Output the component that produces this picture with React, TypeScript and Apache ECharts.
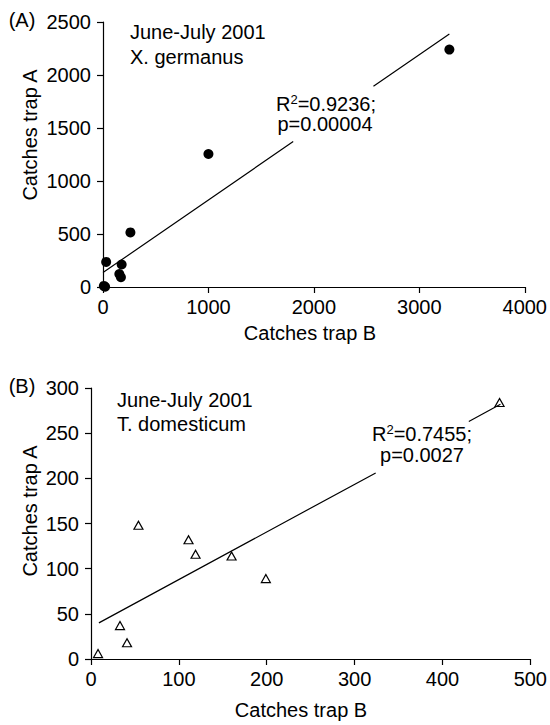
import React, { useEffect, useRef } from 'react';
import * as echarts from 'echarts';

// Panel A: X. germanus (trap B catches, trap A catches)
const germanusB = [3285, 1000, 260, 30, 177, 155, 170, 8, 20];
const germanusA = [2240, 1255, 515, 237, 212, 122, 92, 10, 2];
// regression line A, broken around its label
const fitA_x = [0, 1804, 2565, 3285];
const fitA_y = [136, 1372, 1893, 2386];

// Panel B: T. domesticum
const domesticumB = [465, 54, 111, 119, 160, 199, 33, 41, 8];
const domesticumA = [284, 148, 132, 116, 114, 89, 37, 18, 6];
const fitB_x = [9, 324, 430, 466];
const fitB_y = [40, 206, 263, 282];

const xTicksA = [0, 4000, 1000];
const yTicksA = [0, 2500, 500];
const xTicksB = [0, 500, 100];
const yTicksB = [0, 300, 50];

const FONT = '"Liberation Sans", Arial, Helvetica, sans-serif';
const FS = 20;

function pairs(xs: number[], ys: number[]) {
  return xs.map((x, i) => [x, ys[i]]);
}
function segs(xs: number[], ys: number[]) {
  return [[xs[0], ys[0]], [xs[1], ys[1]], ['-', '-'], [xs[2], ys[2]], [xs[3], ys[3]]];
}

function txt(text: string, x: number, y: number, align = 'left', rotation = 0, extra: any = {}) {
  return {
    type: 'text',
    x,
    y,
    rotation,
    z: 100,
    style: {
      text,
      fontSize: FS,
      fontFamily: FONT,
      fill: '#000',
      align,
      textAlign: align,
      verticalAlign: 'middle',
      textVerticalAlign: 'middle',
      ...extra,
    },
  };
}

const supRich = { s: { fontSize: 13, fontFamily: FONT, fill: '#000', verticalAlign: 'top', lineHeight: 23 }, n: { fontSize: FS, fontFamily: FONT, fill: '#000', lineHeight: 23 } };

export default function App() {
  const ref = useRef<HTMLDivElement>(null);
  useEffect(() => {
    if (!ref.current) return;
    const chart = echarts.init(ref.current, null, { renderer: 'svg' });
    const axisCommon = {
      type: 'value',
      axisLine: { show: true, lineStyle: { color: '#000', width: 1.2 } },
      axisTick: { show: true, length: 6, lineStyle: { color: '#000', width: 1.2 } },
      splitLine: { show: false },
      axisLabel: { color: '#000', fontSize: FS, fontFamily: FONT, formatter: (v: number) => String(v) },
    };
    chart.setOption({
      animation: false,
      backgroundColor: '#fff',
      grid: [
        { left: 103, top: 22, right: 22, height: 265 },
        { left: 91, top: 388, right: 16, bottom: 66 },
      ],
      xAxis: [
        { ...axisCommon, gridIndex: 0, min: xTicksA[0], max: xTicksA[1], interval: xTicksA[2], axisLabel: { ...axisCommon.axisLabel, margin: 10 } },
        { ...axisCommon, gridIndex: 1, min: xTicksB[0], max: xTicksB[1], interval: xTicksB[2], axisLabel: { ...axisCommon.axisLabel, margin: 10 } },
      ],
      yAxis: [
        { ...axisCommon, gridIndex: 0, min: yTicksA[0], max: yTicksA[1], interval: yTicksA[2], axisLabel: { ...axisCommon.axisLabel, margin: 12 } },
        { ...axisCommon, gridIndex: 1, min: yTicksB[0], max: yTicksB[1], interval: yTicksB[2], axisLabel: { ...axisCommon.axisLabel, margin: 12 } },
      ],
      series: [
        {
          type: 'line', xAxisIndex: 0, yAxisIndex: 0, data: segs(fitA_x, fitA_y), symbol: 'none', connectNulls: false,
          lineStyle: { color: '#000', width: 1.2 }, silent: true,
        },
        {
          type: 'scatter', xAxisIndex: 0, yAxisIndex: 0, data: pairs(germanusB, germanusA), symbol: 'circle', symbolSize: 10,
          itemStyle: { color: '#000', opacity: 1 },
        },
        {
          type: 'line', xAxisIndex: 1, yAxisIndex: 1, data: segs(fitB_x, fitB_y), symbol: 'none', connectNulls: false,
          lineStyle: { color: '#000', width: 1.2 }, silent: true,
        },
        {
          type: 'scatter', xAxisIndex: 1, yAxisIndex: 1, data: pairs(domesticumB, domesticumA), symbol: 'triangle', symbolSize: [9, 8],
          itemStyle: { color: '#fff', borderColor: '#000', borderWidth: 1.2, opacity: 1 },
        },
      ],
      graphic: [
        txt('(A)', 22, 20, 'center'),
        txt('June-July 2001', 130, 32),
        txt('X. germanus', 130, 57),
        txt('R{s|2}{n|=0.9236;}', 326, 104, 'center', 0, { rich: supRich }),
        txt('p=0.00004', 325, 124, 'center'),
        txt('Catches trap B', 310, 333, 'center'),
        txt('Catches trap A', 30, 135, 'center', Math.PI / 2),

        txt('(B)', 22, 386, 'center'),
        txt('June-July 2001', 117, 400),
        txt('T. domesticum', 117, 424),
        txt('R{s|2}{n|=0.7455;}', 422, 434, 'center', 0, { rich: supRich }),
        txt('p=0.0027', 422, 455, 'center'),
        txt('Catches trap B', 301, 710, 'center'),
        txt('Catches trap A', 30, 511, 'center', Math.PI / 2),
      ],
    });
    return () => chart.dispose();
  }, []);
  return (
    <div
      ref={ref}
      style={{ position: 'fixed', left: 0, top: 0, width: 550, height: 725, background: '#fff' }}
    />
  );
}
